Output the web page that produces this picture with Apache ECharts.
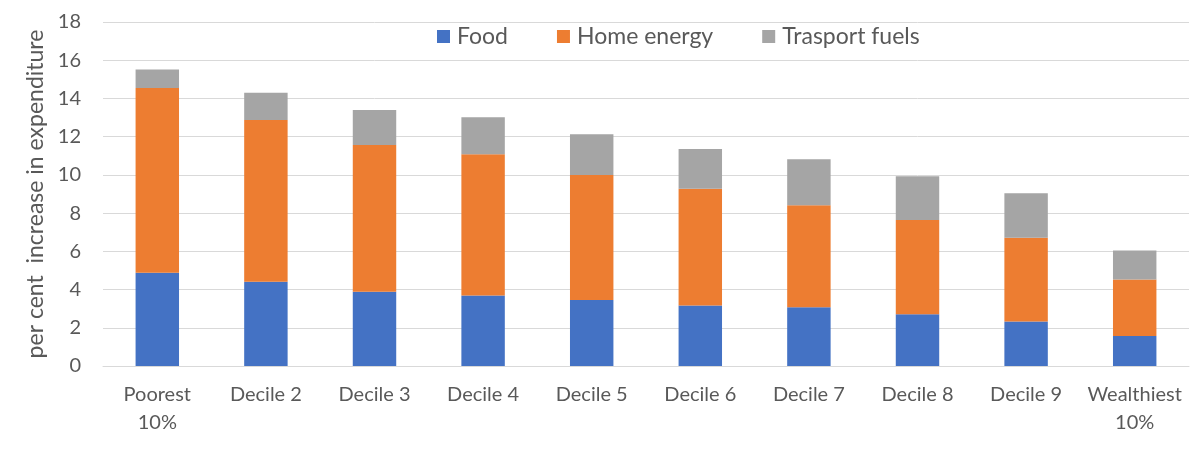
<!DOCTYPE html>
<html style="height: 100%">
    <head>
        <meta charset="utf-8">
    </head>
    <body style="height: 100%; margin: 0; background: #fff;">
        <div id="container" style="width: 1200px; height: 455px;"></div>
        <script src="https://cdn.jsdelivr.net/npm/echarts@6/dist/echarts.min.js"></script>
        <script>
        var categories = ['Poorest\n10%', 'Decile 2', 'Decile 3', 'Decile 4', 'Decile 5',
                          'Decile 6', 'Decile 7', 'Decile 8', 'Decile 9', 'Wealthiest\n10%'];
        var food = [4.88, 4.41, 3.88, 3.69, 3.46, 3.16, 3.08, 2.71, 2.33, 1.57];
        var homeEnergy = [9.67, 8.46, 7.69, 7.39, 6.54, 6.11, 5.33, 4.93, 4.38, 2.96];
        var transportFuels = [0.97, 1.43, 1.82, 1.93, 2.12, 2.08, 2.41, 2.29, 2.33, 1.52];

        var textColor = '#595959';
        var fontName = 'Lato';

        var chart = echarts.init(document.getElementById('container'));

        function barSeries(name, data, color) {
            return {
                name: name,
                type: 'bar',
                stack: 'total',
                data: data,
                barCategoryGap: '60%',
                itemStyle: { color: color },
                emphasis: { disabled: true }
            };
        }

        var option = {
            animation: false,
            textStyle: { fontFamily: fontName },
            legend: {
                left: 432,
                top: 20,
                itemWidth: 13,
                itemHeight: 13,
                itemGap: 49,
                icon: 'rect',
                textStyle: { color: textColor, fontSize: 23, fontFamily: fontName, padding: [0, 0, 0, 2] },
                data: ['Food', 'Home energy', 'Trasport fuels']
            },
            grid: {
                left: 103,
                right: 11,
                top: 22,
                bottom: 89
            },
            xAxis: {
                type: 'category',
                data: categories,
                axisLine: { lineStyle: { color: '#d9d9d9', width: 1 } },
                axisTick: { show: false },
                axisLabel: {
                    color: textColor,
                    fontSize: 20,
                    fontFamily: fontName,
                    margin: 15,
                    lineHeight: 28,
                    interval: 0
                }
            },
            yAxis: {
                type: 'value',
                min: 0,
                max: 18,
                interval: 2,
                name: 'per cent  increase in expenditure',
                nameLocation: 'middle',
                nameGap: 55,
                nameTextStyle: { color: textColor, fontSize: 23, fontFamily: fontName },
                axisLine: { show: false },
                axisTick: { show: false },
                axisLabel: { color: textColor, fontSize: 20, fontFamily: fontName, margin: 22 },
                splitLine: { lineStyle: { color: '#d9d9d9', width: 1 } }
            },
            series: [
                barSeries('Food', food, '#4472C4'),
                barSeries('Home energy', homeEnergy, '#ED7D31'),
                barSeries('Trasport fuels', transportFuels, '#A5A5A5')
            ]
        };

        chart.setOption(option);
        </script>
    </body>
</html>
